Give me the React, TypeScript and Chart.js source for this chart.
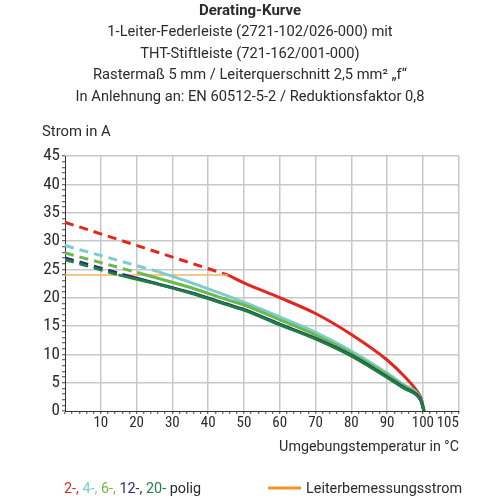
import React, { useEffect, useRef } from "react";
import { Chart, registerables } from "chart.js";

Chart.register(...registerables);

// Heading
const titleLine = "Derating-Kurve";
const subtitleLines = [
  "1-Leiter-Federleiste (2721-102/026-000) mit",
  "THT-Stiftleiste (721-162/001-000)",
  "Rasterma\u00df 5 mm / Leiterquerschnitt 2,5 mm\u00b2 \u201ef\u201c",
  "In Anlehnung an: EN 60512-5-2 / Reduktionsfaktor 0,8",
];
const yAxisTitle = "Strom in A";
const xAxisTitle = "Umgebungstemperatur in \u00b0C";

// Axis ticks
const xLabelValues = [10, 20, 30, 40, 50, 60, 70, 80, 90, 100, 105];
const yLabelValues = [0, 5, 10, 15, 20, 25, 30, 35, 40, 45];

// 2-polig
const tRedDash = [0, 45.5];
const iRedDash = [33.3, 24.0];
const tRed = [45.5, 50, 60, 70, 80, 90, 95, 98, 99.5, 100.3];
const iRed = [24.0, 22.6, 20.0, 17.2, 13.5, 9.0, 6.0, 3.8, 2.2, 0];

// 4-polig
const tCyanDash = [0, 26];
const iCyanDash = [29.2, 24.6];
const tCyan = [26, 35, 45, 50, 60, 70, 80, 90, 95, 98, 99.5, 100.3];
const iCyan = [24.6, 22.7, 20.4, 19.2, 16.6, 13.9, 10.6, 6.7, 4.5, 3.4, 2.0, 0];

// 6-polig
const tGreenDash = [0, 21];
const iGreenDash = [27.9, 24.3];
const tGreen = [21, 35, 45, 50, 60, 70, 80, 90, 95, 98, 99.5, 100.3];
const iGreen = [24.3, 21.8, 19.7, 18.7, 16.1, 13.4, 10.2, 6.4, 4.3, 3.2, 1.9, 0];

// 12-polig
const tBlueDash = [0, 16];
const iBlueDash = [27.0, 24.1];
const tBlue = [16, 25, 35, 45, 50, 60, 70, 80, 90, 95, 98, 99.5, 100.3];
const iBlue = [24.1, 22.6, 20.9, 18.9, 17.9, 15.3, 12.8, 9.8, 6.0, 4.0, 3.0, 1.8, 0];

// 20-polig
const tDarkDash = [0, 15];
const iDarkDash = [26.7, 24.0];
const tDark = [15, 25, 35, 45, 50, 60, 70, 80, 90, 95, 98, 99.5, 100.3];
const iDark = [24.0, 22.5, 20.8, 18.8, 17.8, 15.2, 12.7, 9.7, 5.9, 3.9, 2.9, 1.7, 0];

// Leiterbemessungsstrom
const tRated = [0, 45.5];
const iRated = [24, 24];

const RED = "rgb(226,39,32)";
const CYAN = "rgb(124,204,208)";
const GREEN = "rgb(106,186,72)";
const BLUE = "rgb(43,43,128)";
const DARKGREEN = "rgb(30,128,62)";
const ORANGE_LINE = "rgb(247,180,92)";
const ORANGE_KEY = "rgb(243,150,40)";
const TEXT = "#2b2b2b";
const GRID = "rgb(200,200,200)";

const legendParts = [
  { text: "2-, ", color: RED },
  { text: "4-, ", color: CYAN },
  { text: "6-, ", color: GREEN },
  { text: "12-, ", color: BLUE },
  { text: "20-", color: DARKGREEN },
  { text: " polig", color: TEXT },
];
const ratedLabel = "Leiterbemessungsstrom";

const pts = (t: number[], v: number[]) => t.map((x, i) => ({ x, y: v[i] }));

const curve = (t: number[], v: number[], color: string, dashed: boolean, width = 3) => ({
  data: pts(t, v),
  borderColor: color,
  backgroundColor: color,
  borderWidth: width,
  borderDash: dashed ? [9, 6] : [],
  borderCapStyle: "butt" as const,
  pointRadius: 0,
  fill: false,
  cubicInterpolationMode: "monotone" as const,
});

const X_TICK_SIZE = 15;

const textPlugin = {
  id: "deratingTexts",
  afterDraw(chart: Chart) {
    const ctx = chart.ctx;
    const xs: any = chart.scales.x;
    ctx.save();
    ctx.fillStyle = TEXT;
    ctx.textBaseline = "alphabetic";
    ctx.textAlign = "center";
    ctx.font = "bold 15px Roboto";
    ctx.fillText(titleLine, 250, 14.5);
    ctx.font = "14.7px Roboto";
    const baselines = [36, 57.5, 79, 100.5];
    subtitleLines.forEach((s, i) => ctx.fillText(s, 250, baselines[i]));

    ctx.font = "14.8px Roboto";
    ctx.textAlign = "left";
    ctx.fillText(yAxisTitle, 42, 136);
    ctx.font = "14.3px Roboto";
    ctx.textAlign = "right";
    ctx.fillText(xAxisTitle, 459, 451);

    // the 105 label sits slightly right of its tick so it clears "100"
    ctx.font = `${X_TICK_SIZE}px 'Roboto Condensed'`;
    ctx.textAlign = "center";
    ctx.textBaseline = "middle";
    ctx.fillText("105", xs.getPixelForValue(105) + 7, xs.top + 3 + X_TICK_SIZE * 0.6);

    // legend
    ctx.font = "14.4px Roboto";
    ctx.textBaseline = "alphabetic";
    ctx.textAlign = "left";
    let x = 64;
    legendParts.forEach((p) => {
      ctx.fillStyle = p.color;
      ctx.fillText(p.text, x, 493);
      x += ctx.measureText(p.text).width;
    });
    ctx.strokeStyle = ORANGE_KEY;
    ctx.lineWidth = 3;
    ctx.beginPath();
    ctx.moveTo(268, 488);
    ctx.lineTo(301, 488);
    ctx.stroke();
    ctx.fillStyle = TEXT;
    ctx.fillText(ratedLabel, 306, 493);
    ctx.restore();
  },
};

export default function App() {
  const ref = useRef<HTMLCanvasElement>(null);

  useEffect(() => {
    if (!ref.current) return;
    const chart = new Chart(ref.current, {
      type: "line",
      data: {
        datasets: [
          curve(tDark, iDark, DARKGREEN, false, 2.8),
          curve(tDarkDash, iDarkDash, DARKGREEN, true, 2.8),
          curve(tBlue, iBlue, BLUE, false, 3.2),
          curve(tBlueDash, iBlueDash, BLUE, true, 3.2),
          curve(tGreen, iGreen, GREEN, false),
          curve(tGreenDash, iGreenDash, GREEN, true),
          curve(tCyan, iCyan, CYAN, false),
          curve(tCyanDash, iCyanDash, CYAN, true),
          {
            data: pts(tRated, iRated),
            borderColor: ORANGE_LINE,
            borderWidth: 1.6,
            pointRadius: 0,
            fill: false,
          },
          curve(tRed, iRed, RED, false),
          curve(tRedDash, iRedDash, RED, true),
        ],
      },
      options: {
        responsive: false,
        animation: false,
        layout: { padding: { top: 156, right: 41.3, left: 0, bottom: 0 } },
        plugins: {
          legend: { display: false },
          title: { display: false },
          tooltip: { enabled: false },
        },
        scales: {
          x: {
            type: "linear",
            min: 0,
            max: 110,
            afterFit: (s: any) => {
              s.height = 89;
            },
            afterBuildTicks: (s: any) => {
              const ticks = [];
              for (let v = 0; v <= 110; v += 2) ticks.push({ value: v });
              s.ticks = ticks;
            },
            border: { color: "#333", width: 1 },
            grid: {
              color: (c: any) =>
                c.tick && c.tick.value % 10 === 0 && c.tick.value > 0 ? GRID : "rgba(0,0,0,0)",
              lineWidth: 1.5,
              drawTicks: true,
              tickLength: 3,
              tickColor: "#444",
              tickWidth: 1,
            },
            ticks: {
              autoSkip: false,
              maxRotation: 0,
              padding: 0,
              color: TEXT,
              font: { family: "Roboto Condensed", size: X_TICK_SIZE },
              callback: (v: any) => {
                const n = Number(v);
                return xLabelValues.includes(n) && n !== 105 ? String(n) : "";
              },
            },
          },
          y: {
            type: "linear",
            min: 0,
            max: 45,
            afterFit: (s: any) => {
              s.width = 65;
            },
            afterBuildTicks: (s: any) => {
              const ticks = [];
              for (let v = 0; v <= 45; v += 1) ticks.push({ value: v });
              s.ticks = ticks;
            },
            border: { color: "#333", width: 1 },
            grid: {
              color: (c: any) =>
                c.tick && c.tick.value % 5 === 0 && c.tick.value > 0 ? GRID : "rgba(0,0,0,0)",
              lineWidth: 1.5,
              drawTicks: true,
              tickLength: 3,
              tickColor: "#444",
              tickWidth: 1,
            },
            ticks: {
              autoSkip: false,
              padding: 2,
              color: TEXT,
              font: { family: "Roboto Condensed", size: 17 },
              callback: (v: any) => (yLabelValues.includes(Number(v)) ? String(v) : ""),
            },
          },
        },
      },
      plugins: [textPlugin],
    } as any);
    return () => chart.destroy();
  }, []);

  return (
    <div style={{ position: "absolute", left: 0, top: 0, width: 500, height: 500, background: "#fff" }}>
      <canvas ref={ref} width={500} height={500} style={{ width: 500, height: 500, display: "block" }} />
    </div>
  );
}
